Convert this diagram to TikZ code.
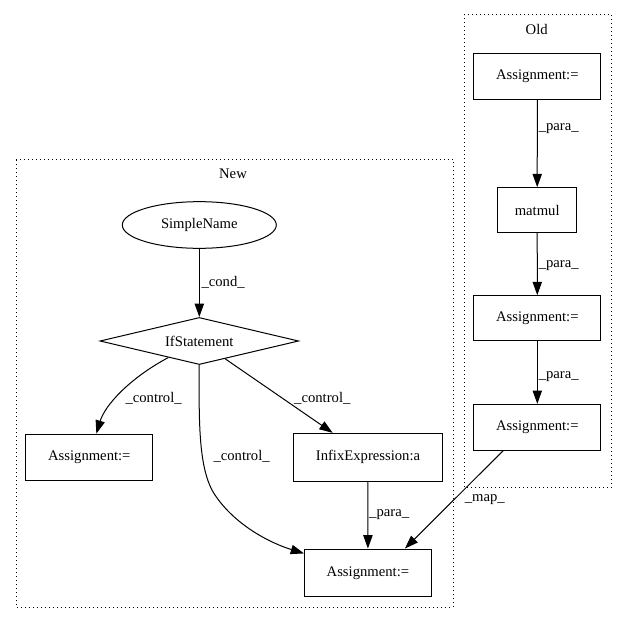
\documentclass[tikz,border=0pt]{standalone}
\usepackage{fontspec}
\setmainfont{Liberation Serif}
\usetikzlibrary{arrows.meta,shapes.geometric}

\tikzset{every picture/.style={line width=0.75pt}}
\tikzset{
  txt/.style={font=\fontsize{11}{13}\selectfont},
  box/.style={txt,draw,rectangle,inner sep=0pt,minimum width=95pt,minimum height=34.5pt},
  lbl/.style={txt,anchor=west,inner sep=0.75pt},
  cluster/.style={dash pattern={on 0.75pt off 2.25pt}},
  edge/.style={-{Triangle[length=10pt,width=7pt]}}
}

\begin{document}
\begin{tikzpicture}[x=0.75pt,y=0.75pt,yscale=-1,xscale=1]
\useasboundingbox (0,0) rectangle (627,624);

%Shape: Rectangle [cluster New]
\draw [cluster] (16,159.3) -- (453,159.3) -- (453,607.3) -- (16,607.3) -- cycle ;
%Shape: Rectangle [cluster Old]
\draw [cluster] (464,15) -- (611.7,15) -- (611.7,487.3) -- (464,487.3) -- cycle ;

% Text Node
\draw (233,174) node [txt] (newT) {New};
% Text Node
\draw (536.7,29) node [txt] (oldT) {Old};

%Shape: Ellipse
\node [txt,draw,ellipse,inner sep=0pt,minimum width=115.5pt,minimum height=35pt] (simple) at (199.3,225) {SimpleName};
%Shape: Diamond
\node [txt,draw,diamond,aspect=4.2,inner sep=1pt,minimum width=149pt,minimum height=35.3pt] (ifs) at (199.3,341) {IfStatement};
%Shape: Rectangle
\node [box] (asgL) at (89.3,457.2) {Assignment:=};
%Shape: Rectangle
\node [box,minimum width=112pt,minimum height=35.8pt] (infix) at (368,457.2) {InfixExpression:a};
%Shape: Rectangle
\node [box,minimum height=35.8pt] (asgB) at (367.9,572.9) {Assignment:=};

%Shape: Rectangle
\node [box] (asg1) at (537.3,76.2) {Assignment:=};
%Shape: Rectangle
\node [box,minimum width=59.3pt,minimum height=33.8pt] (mat) at (537.2,210.2) {matmul};
%Shape: Rectangle
\node [box,minimum height=33.8pt] (asg2) at (537.3,318.2) {Assignment:=};
%Shape: Rectangle
\node [box,minimum height=34.3pt] (asg3) at (537.3,427.2) {Assignment:=};

%Straight Lines
\draw [edge] (simple) -- (ifs) ;
%Curve Lines
\draw [edge] (ifs) .. controls (130,378) and (105,405) .. (asgL) ;
%Curve Lines
\draw [edge] (ifs) .. controls (199,420) and (198,470) .. (215,495) .. controls (235,525) and (270,543) .. (asgB) ;
%Straight Lines
\draw [edge] (ifs) -- (infix) ;
%Straight Lines
\draw [edge] (infix) -- (asgB) ;
%Straight Lines
\draw [edge] (asg1) -- (mat) ;
%Straight Lines
\draw [edge] (mat) -- (asg2) ;
%Straight Lines
\draw [edge] (asg2) -- (asg3) ;
%Straight Lines
\draw [edge] ([xshift=-25.5pt]asg3.south) -- ([xshift=27.8pt]asgB.north) ;

% Text Node
\draw (200,282.7) node [lbl] (lcond) {\_cond\_};
% Text Node
\draw (124,398) node [lbl] (lctlL) {\_control\_};
% Text Node
\draw (212,456.7) node [lbl] (lctlM) {\_control\_};
% Text Node
\draw (292.7,398) node [lbl] (lctlR) {\_control\_};
% Text Node
\draw (367.7,515) node [lbl] (lparaI) {\_para\_};
% Text Node
\draw (537.3,128.3) node [lbl] (lpara1) {\_para\_};
% Text Node
\draw (537.3,265.7) node [lbl] (lpara2) {\_para\_};
% Text Node
\draw (537.3,376.7) node [lbl] (lpara3) {\_para\_};
% Text Node
\draw (463.3,500) node [lbl] (lmap) {\_map\_};

\end{tikzpicture}
\end{document}
